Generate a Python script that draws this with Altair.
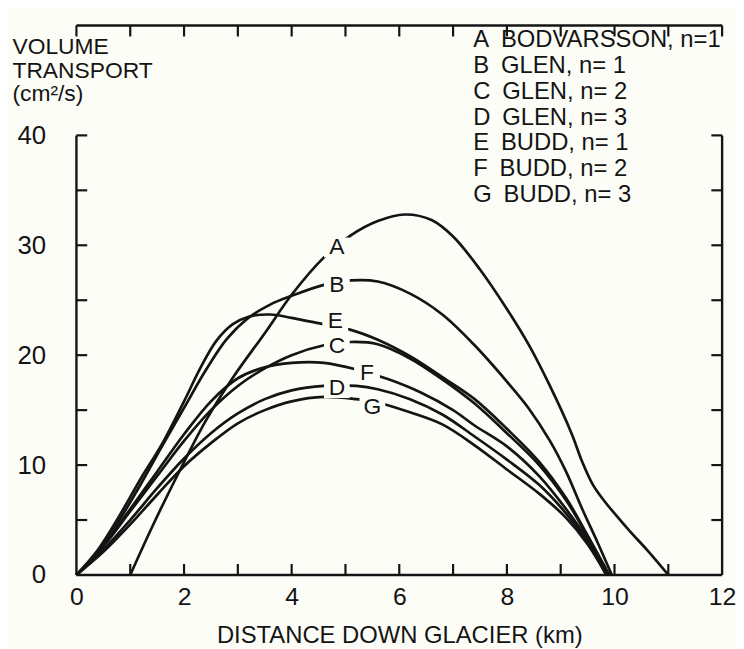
import altair as alt
import pandas as pd

# ---------------- data ----------------
letters = ["A", "B", "C", "D", "E", "F", "G"]
names = ["BODVARSSON, n=1", "GLEN, n= 1", "GLEN, n= 2", "GLEN, n= 3",
         "BUDD, n= 1", "BUDD, n= 2", "BUDD, n= 3"]

dist_A = [1.0, 1.4, 1.9, 2.4, 2.9, 3.5, 4.0, 4.6, 5.1, 5.6, 6.1, 6.6, 7.0, 7.5,
          8.0, 8.4, 8.8, 9.2, 9.4, 9.6, 9.8, 10.0, 10.3, 10.6, 11.0]
vol_A = [0, 4.3, 9.3, 14.0, 17.9, 22.0, 25.5, 28.9, 30.9, 32.2, 32.8, 32.3, 30.8,
         27.8, 24.2, 21.0, 17.2, 12.9, 10.3, 8.2, 6.8, 5.6, 3.9, 2.3, 0]

dist_B = [0, 0.4, 0.8, 1.2, 1.6, 2.0, 2.4, 2.8, 3.2, 3.6, 4.0, 4.6, 5.1, 5.6, 6.2,
          6.8, 7.4, 8.0, 8.4, 8.8, 9.1, 9.4, 9.7, 9.95]
vol_B = [0, 2.0, 5.0, 8.3, 11.8, 15.2, 18.6, 21.5, 23.4, 24.6, 25.4, 26.4, 26.8,
         26.7, 25.6, 23.7, 20.9, 17.6, 15.2, 12.2, 9.4, 6.0, 2.8, 0]

dist_E = [0, 0.4, 0.8, 1.2, 1.6, 2.0, 2.3, 2.6, 2.9, 3.2, 3.6, 4.0, 4.6, 5.1, 5.6,
          6.2, 6.8, 7.4, 8.0, 8.6, 9.1, 9.5, 9.9]
vol_E = [0, 2.3, 5.4, 8.8, 12.0, 15.8, 18.8, 21.3, 22.8, 23.5, 23.7, 23.4, 22.8,
         22.3, 21.4, 19.9, 18.0, 16.0, 13.3, 10.3, 7.0, 3.6, 0]

dist_C = [0, 0.5, 1.0, 1.5, 2.0, 2.5, 3.0, 3.5, 4.0, 4.6, 5.1, 5.6, 6.2, 6.8, 7.4,
          8.0, 8.6, 9.1, 9.5, 9.9]
vol_C = [0, 2.6, 5.8, 9.0, 12.2, 15.0, 17.2, 18.8, 20.0, 20.9, 21.2, 21.0, 19.7,
         17.8, 15.6, 12.9, 10.0, 6.8, 3.5, 0]

dist_F = [0, 0.5, 1.0, 1.5, 2.0, 2.5, 3.0, 3.5, 4.0, 4.6, 5.2, 5.8, 6.4, 7.0, 7.4,
          8.0, 8.6, 9.1, 9.5, 9.85]
vol_F = [0, 2.7, 6.0, 9.4, 12.8, 15.8, 17.9, 18.9, 19.3, 19.3, 18.7, 17.8, 16.6,
         15.0, 13.6, 11.7, 9.0, 6.0, 3.2, 0]

dist_D = [0, 0.5, 1.0, 1.5, 2.0, 2.5, 3.0, 3.5, 4.0, 4.6, 5.2, 5.6, 6.2, 6.8, 7.4,
          8.0, 8.6, 9.1, 9.5, 9.85]
vol_D = [0, 2.3, 5.0, 7.9, 10.6, 12.9, 14.7, 16.0, 16.8, 17.2, 17.2, 16.9, 16.0,
         14.6, 12.6, 10.5, 8.2, 5.6, 3.0, 0]

dist_G = [0, 0.5, 1.0, 1.5, 2.0, 2.5, 3.0, 3.5, 4.0, 4.6, 5.2, 5.6, 6.2, 6.8, 7.4,
          8.0, 8.6, 9.1, 9.5, 9.85]
vol_G = [0, 2.1, 4.6, 7.3, 9.9, 12.0, 13.8, 15.0, 15.8, 16.2, 16.0, 15.7, 14.8,
         13.7, 11.8, 9.6, 7.4, 5.2, 2.8, 0]

# in-plot curve labels
label_x = [4.84, 4.84, 4.84, 4.84, 4.81, 5.40, 5.50]
label_y = [29.8, 26.4, 20.8, 17.0, 23.1, 18.4, 15.3]

x_tick_labels = [0, 2, 4, 6, 8, 10, 12]
y_tick_labels = [0, 10, 20, 30, 40]

# ---------------- build tables ----------------
curves = {"A": (dist_A, vol_A), "B": (dist_B, vol_B), "C": (dist_C, vol_C),
          "D": (dist_D, vol_D), "E": (dist_E, vol_E), "F": (dist_F, vol_F),
          "G": (dist_G, vol_G)}
entries = [f"{l}\u2002{n}" for l, n in zip(letters, names)]
entry_of = dict(zip(letters, entries))

rows = []
for l in letters:
    xs, ys = curves[l]
    for i, (xv, yv) in enumerate(zip(xs, ys)):
        rows.append({"entry": entry_of[l], "dist": xv, "vol": yv, "i": i})
df = pd.DataFrame(rows)

lab_df = pd.DataFrame({"letter": letters, "dist": label_x, "vol": label_y})

X_MAX, Y_AXIS_TOP, TOP_LINE = 12, 40, 50
frame_df = pd.DataFrame({
    "dist": [0, 0, X_MAX, 0],
    "dist2": [X_MAX, 0, X_MAX, X_MAX],
    "vol": [0, 0, 0, TOP_LINE],
    "vol2": [0, Y_AXIS_TOP, Y_AXIS_TOP, TOP_LINE],
})

TX, TY = 0.2, 1.0  # inward tick lengths in data units
tick_rows = []
for xv in range(1, X_MAX):
    tick_rows.append({"dist": xv, "dist2": xv, "vol": 0, "vol2": TY})
for xv in range(0, X_MAX + 1):
    tick_rows.append({"dist": xv, "dist2": xv, "vol": TOP_LINE, "vol2": TOP_LINE - TY})
for yv in range(5, Y_AXIS_TOP + 1, 5):
    tick_rows.append({"dist": 0, "dist2": TX, "vol": yv, "vol2": yv})
    tick_rows.append({"dist": X_MAX, "dist2": X_MAX - TX, "vol": yv, "vol2": yv})
tick_df = pd.DataFrame(tick_rows)

# ---------------- styling ----------------
FONT = "Liberation Sans"
INK = "#141414"
BG = "#fdfdf8"

x_scale = alt.Scale(domain=[0, 12], nice=False, zero=False)
y_scale = alt.Scale(domain=[0, 50], nice=False, zero=False)

x_axis = alt.Axis(values=x_tick_labels, domain=False, ticks=False, grid=False,
                  labelFontSize=25, labelFont=FONT, labelColor=INK, labelPadding=10,
                  labelFlush=False,
                  title="DISTANCE DOWN GLACIER (km)", titleFontSize=24,
                  titleFont=FONT, titleFontWeight="normal", titleColor=INK,
                  titlePadding=14)
y_axis = alt.Axis(values=y_tick_labels, domain=False, ticks=False, grid=False,
                  labelFontSize=26, labelFont=FONT, labelColor=INK, labelPadding=31,
                  labelFlush=False,
                  title=["VOLUME", "TRANSPORT", "(cm²/s)"], titleFontSize=23,
                  titleFont=FONT, titleFontWeight="normal", titleColor=INK,
                  titleAngle=0, titleAlign="left", titleBaseline="top",
                  titleX=-65, titleY=10, titleLineHeight=24)

X = alt.X("dist:Q", scale=x_scale, axis=x_axis)
Y = alt.Y("vol:Q", scale=y_scale, axis=y_axis)

frame = alt.Chart(frame_df).mark_rule(color=INK, strokeWidth=2.4).encode(
    x=X, x2="dist2:Q", y=Y, y2="vol2:Q")
ticks = alt.Chart(tick_df).mark_rule(color=INK, strokeWidth=2.2).encode(
    x=X, x2="dist2:Q", y=Y, y2="vol2:Q")

lines = alt.Chart(df).mark_line(strokeWidth=2.7, interpolate="catmull-rom").encode(
    x=X, y=Y,
    order="i:Q",
    color=alt.Color("entry:N",
                    scale=alt.Scale(domain=entries, range=[INK] * 7),
                    legend=alt.Legend(orient="none", legendX=376, legendY=3,
                                      title=None, symbolSize=0, symbolOpacity=0,
                                      symbolStrokeWidth=0, labelOffset=0,
                                      labelFontSize=24, labelFont=FONT,
                                      labelColor=INK, labelLimit=500,
                                      rowPadding=2, padding=0)),
)

# blank patch behind each curve letter, so the curve is broken around it
gap = alt.Chart(lab_df).mark_rect(
    color=BG, opacity=1, xOffset=-13, x2Offset=13, yOffset=-10, y2Offset=10
).encode(x=X, x2="dist:Q", y=Y, y2="vol:Q")
labels = alt.Chart(lab_df).mark_text(fontSize=23, font=FONT, color=INK,
                                     baseline="middle").encode(
    x=X, y=Y, text="letter:N")

chart = alt.layer(frame, ticks, lines, gap, labels).properties(
    width=651, height=554,
    autosize=alt.AutoSizeParams(type="none"),
    padding={"left": 69, "top": 15, "right": 14, "bottom": 71},
    background=BG,
).configure_view(stroke=None)

chart.save("out.html", embed_options={"renderer": "svg", "actions": False})
